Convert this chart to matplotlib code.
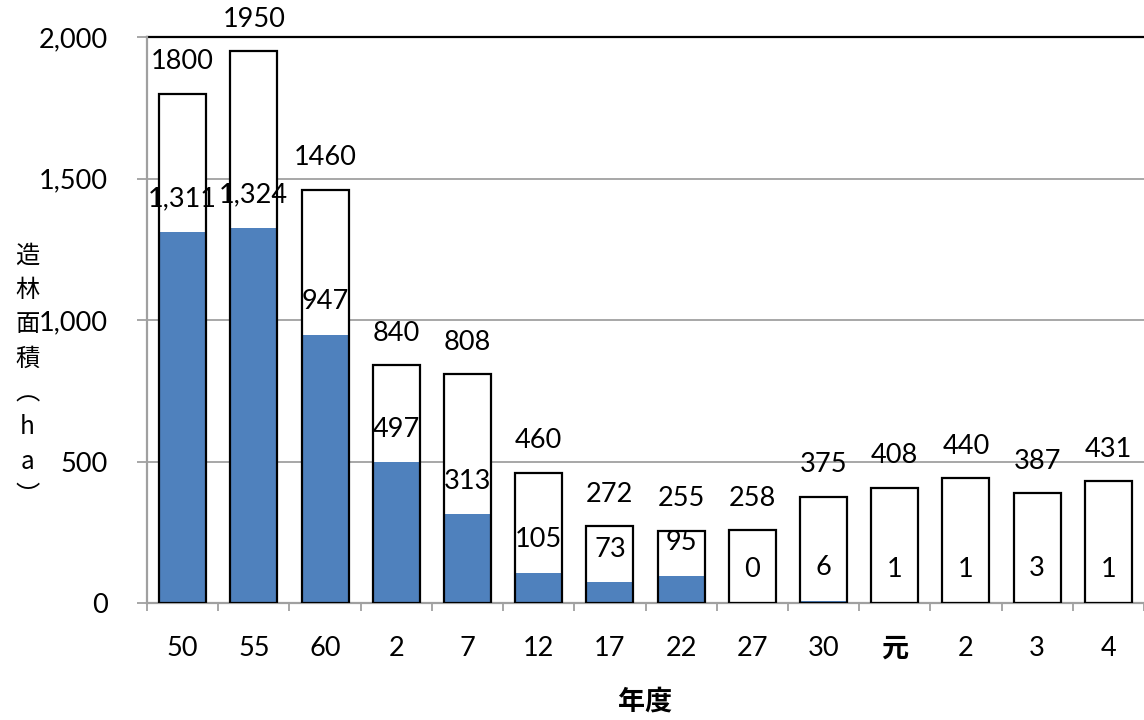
import matplotlib
matplotlib.use("Agg")
import matplotlib.pyplot as plt
from matplotlib.ticker import FixedLocator, FuncFormatter

plt.rcParams['font.family'] = ['Lato', 'Noto Sans CJK JP', 'DejaVu Sans']

categories = ["50", "55", "60", "2", "7", "12", "17", "22", "27", "30", "元", "2", "3", "4"]
total_area = [1800, 1950, 1460, 840, 808, 460, 272, 255, 258, 375, 408, 440, 387, 431]
sub_area = [1311, 1324, 947, 497, 313, 105, 73, 95, 0, 6, 1, 1, 3, 1]
yticks = [0, 500, 1000, 1500, 2000]

fig = plt.figure(figsize=(11.44, 7.2), dpi=100)
ax = fig.add_axes([0.1285, 0.1625, 0.8715, 0.7861])

x = list(range(len(categories)))
w = 0.66
blue = "#4F81BD"

ax.bar(x, total_area, width=w, color="white", edgecolor="none", zorder=2)
ax.bar(x, sub_area, width=w, color=blue, edgecolor="none", zorder=3)
ax.bar(x, total_area, width=w, fill=False, edgecolor="black", linewidth=1.6, zorder=4)

fs = 19.5
for xi, t in zip(x, total_area):
    ax.annotate(f"{t}", (xi, t), xytext=(0, 23), textcoords="offset points",
                ha="center", va="center", fontsize=fs, zorder=5)
for xi, s in zip(x, sub_area):
    ax.annotate(f"{s:,}", (xi, s), xytext=(0, 24), textcoords="offset points",
                ha="center", va="center", fontsize=fs, zorder=5)

ax.set_xlim(-0.5, len(categories) - 0.5)
ax.set_ylim(0, 2000)

# grid
for yv in yticks[1:-1]:
    ax.axhline(yv, color="#a0a0a0", linewidth=1.3, zorder=1)
ax.axhline(2000, color="black", linewidth=1.6, zorder=1, clip_on=False)

for s in ["top", "right"]:
    ax.spines[s].set_visible(False)
ax.spines["left"].set_color("#a0a0a0")
ax.spines["left"].set_linewidth(1.6)
ax.spines["bottom"].set_color("#a0a0a0")
ax.spines["bottom"].set_linewidth(1.6)

ax.yaxis.set_major_locator(FixedLocator(yticks))
ax.yaxis.set_major_formatter(FuncFormatter(lambda v, p: f"{int(v):,}"))
ax.tick_params(axis="y", direction="out", length=7, width=1.3, color="#a0a0a0",
               labelsize=fs, pad=21)

ax.set_xticks(x)
ax.set_xticklabels(categories)
ax.set_xticks([i - 0.5 for i in range(len(categories) + 1)], minor=True)
ax.tick_params(axis="x", which="major", length=0, labelsize=fs, pad=24)
ax.tick_params(axis="x", which="minor", direction="out", length=6, width=1.3, color="#a0a0a0")
for lbl in ax.get_xticklabels():
    if lbl.get_text() == "元":
        lbl.set_fontweight("bold")

ax.set_xlabel("年度", fontsize=fs, fontweight="bold", labelpad=19)

fig.text(0.024, 0.478, "造\n林\n面\n積\n︵\nh\na\n︶", ha="center", va="center",
         fontsize=17.5, linespacing=1.42, family=['Noto Sans CJK JP', 'DejaVu Sans'])

fig.savefig("out.png", dpi=100)
